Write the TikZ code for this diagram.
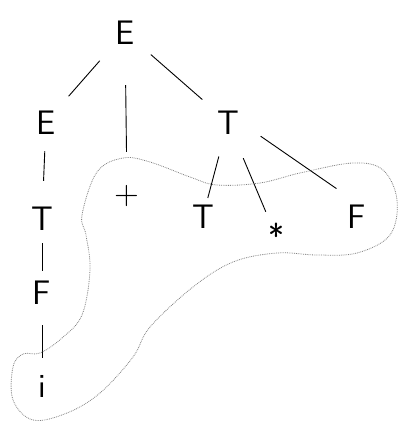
\documentclass[tikz,border=0pt]{standalone}
\usepackage{tikz}
\usetikzlibrary{positioning}

\tikzset{
  sym/.style={font=\fontsize{34}{36}\selectfont\sffamily, inner sep=1pt,
    text height=24pt, text depth=0pt},
  branch/.style 2 args={line width=0.9pt, shorten <=#1, shorten >=#2},
}

\begin{document}
\begin{tikzpicture}[x=1pt, y=-1pt]
    \useasboundingbox (0,0) rectangle (408,439);

    % Knoten
    \node[sym] (eroot) at (125,32) {E};
    \node[sym] (eleft) at (46,122) {E};
    \node[sym] (plus) at (127,192) {+};
    \node[sym] (tright) at (228,122) {T};
    \node[sym] (tleft) at (42,218) {T};
    \node[sym] (fleft) at (42,292) {F};
    \node[sym] (ileaf) at (42,385) {i};
    \node[sym] (tmid) at (203,216) {T};
    \node[sym] (times) at (276,236) {*};
    \node[sym] (fright) at (357,216) {F};

    % Kanten
    \draw[branch={22pt}{18pt}] (eroot) -- (eleft);
    \draw[branch={40pt}{27pt}] (eroot) -- (plus);
    \draw[branch={20pt}{18pt}] (eroot) -- (tright);
    \draw[branch={16pt}{24pt}] (eleft) -- (tleft);
    \draw[branch={12pt}{8pt}] (tleft) -- (fleft);
    \draw[branch={20pt}{14pt}] (fleft) -- (ileaf);
    \draw[branch={22pt}{5pt}] (tright) -- (tmid);
    \draw[branch={25pt}{12pt}] (tright) -- (times);
    \draw[branch={25pt}{25pt}] (tright.east) -- (fright.north);

    % Umrandung
    \draw[gray, densely dotted, line width=0.8pt] plot[smooth cycle, tension=0.6] coordinates {
        (40,353) (62,338) (82,315) (90,270) (86,235) (82,215)
        (97,172) (123,158) (150,162) (190,177) (217,185) (260,183)
        (300,173) (353,163) (383,170) (397,200) (390,235) (357,253)
        (317,255) (277,253) (233,262) (193,287) (150,327) (133,357)
        (100,393) (67,413) (33,420) (13,400) (13,367) (23,354)};
\end{tikzpicture}
\end{document}
